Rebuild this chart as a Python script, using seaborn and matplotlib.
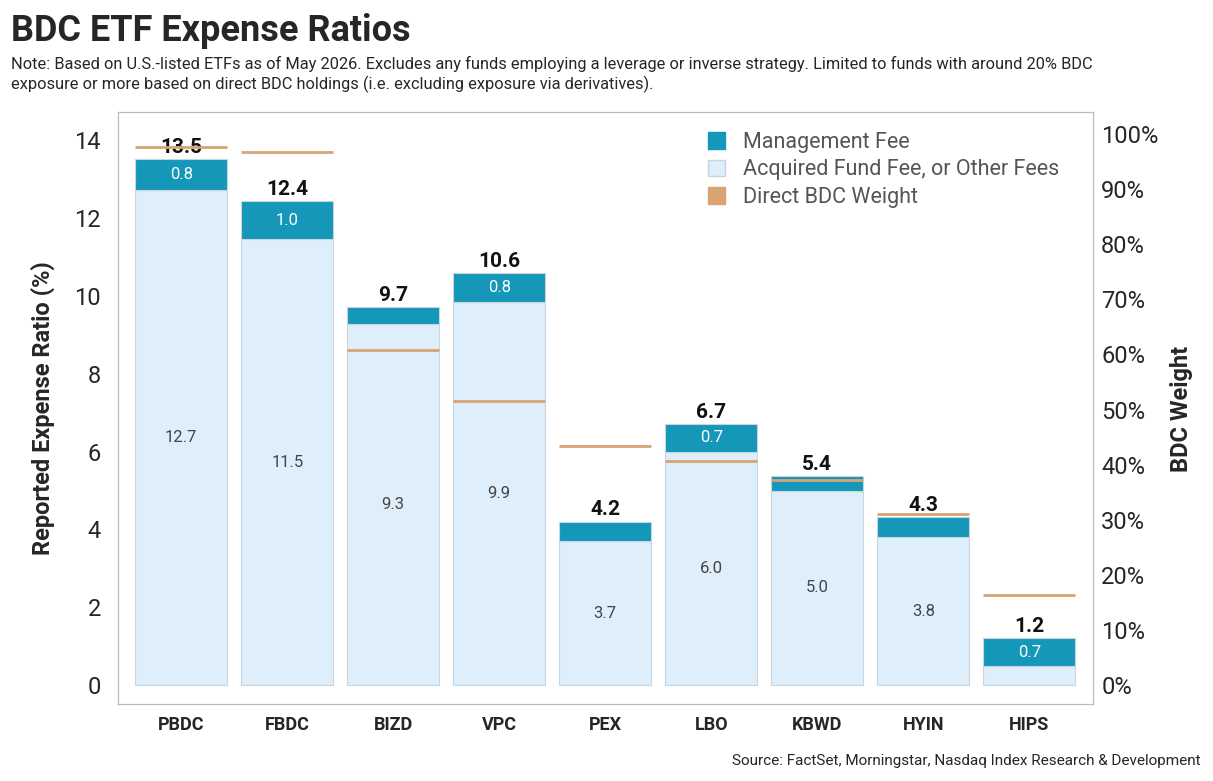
import matplotlib
matplotlib.use("Agg")
import matplotlib.pyplot as plt
import seaborn as sns
import numpy as np

tickers = ["PBDC", "FBDC", "BIZD", "VPC", "PEX", "LBO", "KBWD", "HYIN", "HIPS"]
acquired = [12.7, 11.45, 9.28, 9.83, 3.7, 6.0, 5.0, 3.8, 0.5]
mgmt = [0.8, 0.98, 0.42, 0.75, 0.5, 0.7, 0.37, 0.52, 0.71]
totals = ["13.5", "12.4", "9.7", "10.6", "4.2", "6.7", "5.4", "4.3", "1.2"]
acq_labels = ["12.7", "11.5", "9.3", "9.9", "3.7", "6.0", "5.0", "3.8", ""]
mgmt_labels = ["0.8", "1.0", "", "0.8", "", "0.7", "", "", "0.7"]
bdc_weight = [97.6, 96.7, 60.8, 51.5, 43.4, 40.7, 37.3, 31.1, 16.3]

sns.set_theme(style="white")
plt.rcParams['font.family'] = ['Roboto', 'DejaVu Sans']

C_M = "#1497B8"; C_A = "#DEEEFA"; C_W = "#D9A373"
fig = plt.figure(figsize=(12.13, 7.81), dpi=100)
ax = fig.add_axes([0.097, 0.098, 0.804, 0.758])
x = np.arange(len(tickers))
sns.barplot(x=tickers, y=acquired, color=C_A, ax=ax, width=0.87, edgecolor="#C8D4DE", linewidth=0.8, saturation=1)
ax.bar(x, mgmt, bottom=acquired, width=0.87, color=C_M, edgecolor="#C8D4DE", linewidth=0.8)
for i in range(len(tickers)):
    top = acquired[i] + mgmt[i]
    ax.text(i, top + 0.06, totals[i], ha="center", va="bottom", fontsize=15, fontweight="bold", color="#111")
    if acq_labels[i]:
        ax.text(i, acquired[i] / 2, acq_labels[i], ha="center", va="center", fontsize=12, color="#444")
    if mgmt_labels[i]:
        ax.text(i, acquired[i] + mgmt[i] / 2, mgmt_labels[i], ha="center", va="center", fontsize=12, color="white")
ymin, ymax = -0.49, 14.7
ax.set_ylim(ymin, ymax)
ax.set_xlim(-0.6, 8.6)
ax.set_yticks(range(0, 15, 2))
ax.tick_params(axis="y", labelsize=17, length=0, pad=12)
ax.tick_params(axis="x", labelsize=13, length=0, pad=8)
for lab in ax.get_xticklabels():
    lab.set_fontweight("bold")
ax.set_ylabel("Reported Expense Ratio (%)", fontsize=17, fontweight="bold", labelpad=14)

ax2 = ax.twinx()
scale = 100 / 14.15
ax2.set_ylim(ymin * scale, ymax * scale)
ax2.set_yticks(range(0, 101, 10))
ax2.set_yticklabels([f"{v}%" for v in range(0, 101, 10)])
ax2.tick_params(axis="y", labelsize=17, length=0, pad=6)
ax2.set_ylabel("BDC Weight", fontsize=17, fontweight="bold", labelpad=8)
for i, w in enumerate(bdc_weight):
    ax2.hlines(w, i - 0.435, i + 0.435, color=C_W, linewidth=2)
for a in (ax, ax2):
    for s in a.spines.values():
        s.set_color("#BBBBBB"); s.set_linewidth(0.8)

from matplotlib.patches import Patch
handles = [Patch(color=C_M, label="Management Fee"), Patch(facecolor=C_A, edgecolor="#C8D4DE", label="Acquired Fund Fee, or Other Fees"), Patch(color=C_W, label="Direct BDC Weight")]
ax.legend(handles=handles, loc="upper right", bbox_to_anchor=(0.985, 1.0), frameon=False, fontsize=15.5, handlelength=0.8, handleheight=0.8, labelspacing=0.3, labelcolor="#555")

fig.text(0.009, 0.96, "BDC ETF Expense Ratios", fontsize=26, fontweight="bold", va="center")
fig.text(0.009, 0.905, "Note: Based on U.S.-listed ETFs as of May 2026. Excludes any funds employing a leverage or inverse strategy. Limited to funds with around 20% BDC\nexposure or more based on direct BDC holdings (i.e. excluding exposure via derivatives).", fontsize=11.8, va="center", linespacing=1.3)
fig.text(0.99, 0.025, "Source: FactSet, Morningstar, Nasdaq Index Research & Development", fontsize=11, ha="right", va="center")
fig.savefig("out.png", dpi=100)
